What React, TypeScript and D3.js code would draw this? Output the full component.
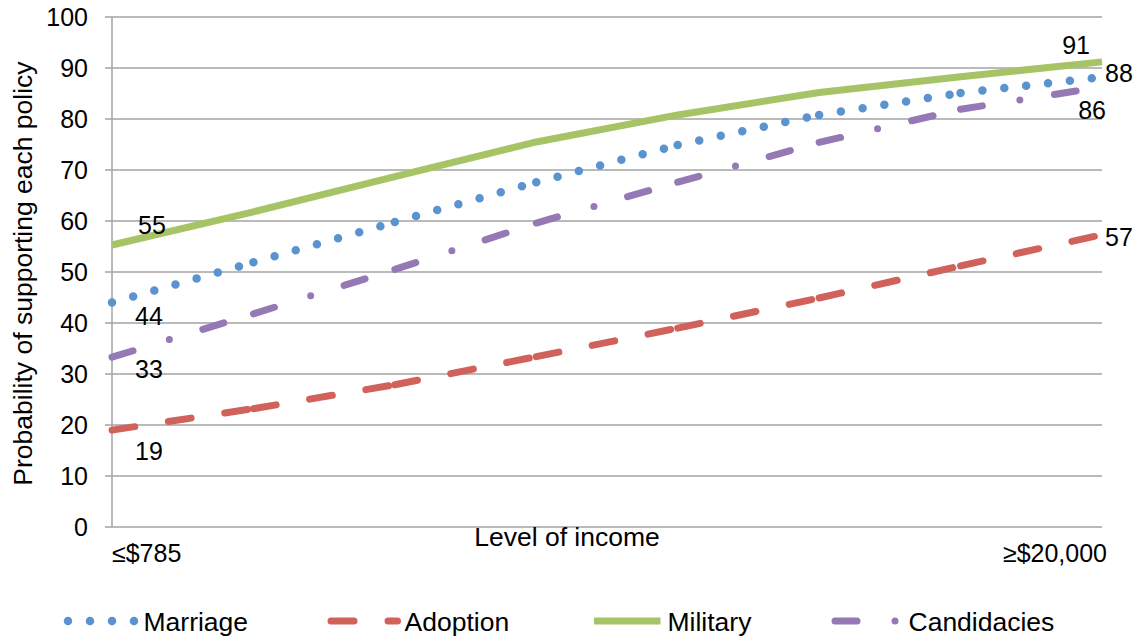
import { useEffect, useRef } from "react"
import * as d3 from "d3"

// Income levels: only the two ends carry a label on the axis
const incomeLabels = ["≤$785", "", "", "", "", "", "", "≥$20,000"]

const marriage = [44, 51.9, 59.8, 67.6, 74.9, 80.8, 85.1, 88.2]
const adoption = [19, 23.2, 27.9, 33.4, 39.0, 44.9, 51.2, 57.3]
const military = [55.3, 61.8, 68.7, 75.5, 80.8, 85.2, 88.3, 91.2]
const candidacies = [33.3, 41.8, 50.5, 59.6, 67.6, 75.4, 81.9, 86.3]

const yTicks = [0, 10, 20, 30, 40, 50, 60, 70, 80, 90, 100]

interface Series {
  name: string
  values: number[]
  color: string
  dash: string | null // null = solid
  width: number
  // data label offsets (first point / last point): [dx, dy, anchor]
  first: [number, number, string]
  last: [number, number, string]
}

const series: Series[] = [
  { name: "Marriage", values: marriage, color: "#5b93cf", dash: "0 22", width: 8.5, first: [23, 13, "start"], last: [3, -4, "start"] },
  { name: "Adoption", values: adoption, color: "#d0625b", dash: "23 34", width: 7, first: [23, 21, "start"], last: [3, 2, "start"] },
  { name: "Military", values: military, color: "#a6c465", dash: null, width: 7, first: [26, -20, "start"], last: [-12, -17, "end"] },
  { name: "Candidacies", values: candidacies, color: "#9479b5", dash: "22 38 0 35", width: 7, first: [23, 12, "start"], last: [4, 23, "end"] },
]

// legend entry start positions (symbol left edge)
const legendX = [68, 331, 594, 835]

export default function App() {
  const svgRef = useRef<SVGSVGElement>(null)

  useEffect(() => {
    if (!svgRef.current) return
    const svg = d3.select(svgRef.current)
    svg.selectAll("*").remove()

    const width = 1141
    const height = 639
    const left = 112
    const right = 1102
    const top = 17
    const bottom = 527
    const font = "'Liberation Sans', Arial, sans-serif"
    const numSize = 25
    const textSize = 26.5
    const grid = "#a3a3a3"

    svg.attr("width", width).attr("height", height).style("font-family", font)

    const x = d3.scalePoint<number>().domain(d3.range(incomeLabels.length)).range([left, right])
    const y = d3.scaleLinear().domain([0, 100]).range([bottom, top])

    // Gridlines + y tick marks
    svg
      .append("g")
      .selectAll("line")
      .data(yTicks)
      .enter()
      .append("line")
      .attr("x1", left - 7)
      .attr("x2", right)
      .attr("y1", (d) => y(d))
      .attr("y2", (d) => y(d))
      .attr("stroke", grid)
      .attr("stroke-width", 1.5)

    // y axis line
    svg
      .append("line")
      .attr("x1", left)
      .attr("x2", left)
      .attr("y1", top)
      .attr("y2", bottom)
      .attr("stroke", grid)
      .attr("stroke-width", 1.5)

    // y tick labels
    svg
      .append("g")
      .selectAll("text")
      .data(yTicks)
      .enter()
      .append("text")
      .attr("x", 88)
      .attr("y", (d) => y(d))
      .attr("dy", "0.36em")
      .attr("text-anchor", "end")
      .style("font-size", `${numSize}px`)
      .style("fill", "#000")
      .text((d) => d)

    // y axis title
    svg
      .append("text")
      .attr("transform", `translate(32, 273.5) rotate(-90)`)
      .attr("text-anchor", "middle")
      .style("font-size", `${textSize}px`)
      .text("Probability of supporting each policy")

    // x axis title
    svg
      .append("text")
      .attr("x", 567)
      .attr("y", 546)
      .attr("text-anchor", "middle")
      .style("font-size", `${textSize}px`)
      .text("Level of income")

    // category labels (first and last only)
    const lastIdx = incomeLabels.length - 1
    svg
      .append("g")
      .selectAll("text")
      .data(incomeLabels.map((label, i) => ({ label, i })).filter((d) => d.label !== ""))
      .enter()
      .append("text")
      .attr("x", (d) => (d.i === lastIdx ? (x(d.i) as number) + 5 : (x(d.i) as number)))
      .attr("y", 562)
      .attr("text-anchor", (d) => (d.i === lastIdx ? "end" : "start"))
      .style("font-size", `${numSize}px`)
      .text((d) => d.label)

    const line = d3
      .line<number>()
      .x((_, i) => x(i) as number)
      .y((d) => y(d))

    const segLine = d3
      .line<[number, number]>()
      .x((d) => x(d[0]) as number)
      .y((d) => y(d[1]))

    // Lines: dashed styles restart their pattern at each point, like Excel
    series.forEach((s) => {
      const g = svg.append("g")
      if (s.dash === null) {
        g.append("path")
          .attr("d", line(s.values))
          .attr("fill", "none")
          .attr("stroke", s.color)
          .attr("stroke-width", s.width)
          .attr("stroke-linejoin", "round")
      } else {
        const segs = d3.pairs(s.values.map((v, i) => [i, v] as [number, number]))
        g.selectAll("path")
          .data(segs)
          .enter()
          .append("path")
          .attr("d", (d) => segLine(d))
          .attr("fill", "none")
          .attr("stroke", s.color)
          .attr("stroke-width", s.width)
          .attr("stroke-linecap", "round")
          .attr("stroke-dasharray", s.dash)
      }
    })

    // Data labels at the first and last points
    series.forEach((s) => {
      const n = s.values.length - 1
      const ends: [number, [number, number, string]][] = [
        [0, s.first],
        [n, s.last],
      ]
      ends.forEach(([i, [dx, dy, anchor]]) => {
        svg
          .append("text")
          .attr("x", (x(i) as number) + dx)
          .attr("y", y(s.values[i]) + dy)
          .attr("dy", "0.36em")
          .attr("text-anchor", anchor)
          .style("font-size", `${numSize}px`)
          .text(Math.round(s.values[i]))
      })
    })

    // Legend
    const legendY = 621
    const symW = 66.5
    series.forEach((s, i) => {
      const lx = legendX[i]
      const item = svg.append("g")
      const p = item
        .append("line")
        .attr("x1", lx)
        .attr("x2", lx + symW)
        .attr("y1", legendY)
        .attr("y2", legendY)
        .attr("stroke", s.color)
        .attr("stroke-width", s.width)
      if (s.dash !== null) p.attr("stroke-dasharray", s.dash).attr("stroke-linecap", "round")
      item
        .append("text")
        .attr("x", lx + symW + (i === 0 ? 9 : 7))
        .attr("y", legendY)
        .attr("dy", "0.36em")
        .style("font-size", `${textSize}px`)
        .text(s.name)
    })
  }, [])

  return (
    <div style={{ position: "absolute", left: 0, top: 0, background: "#fff" }}>
      <svg ref={svgRef}></svg>
    </div>
  )
}
